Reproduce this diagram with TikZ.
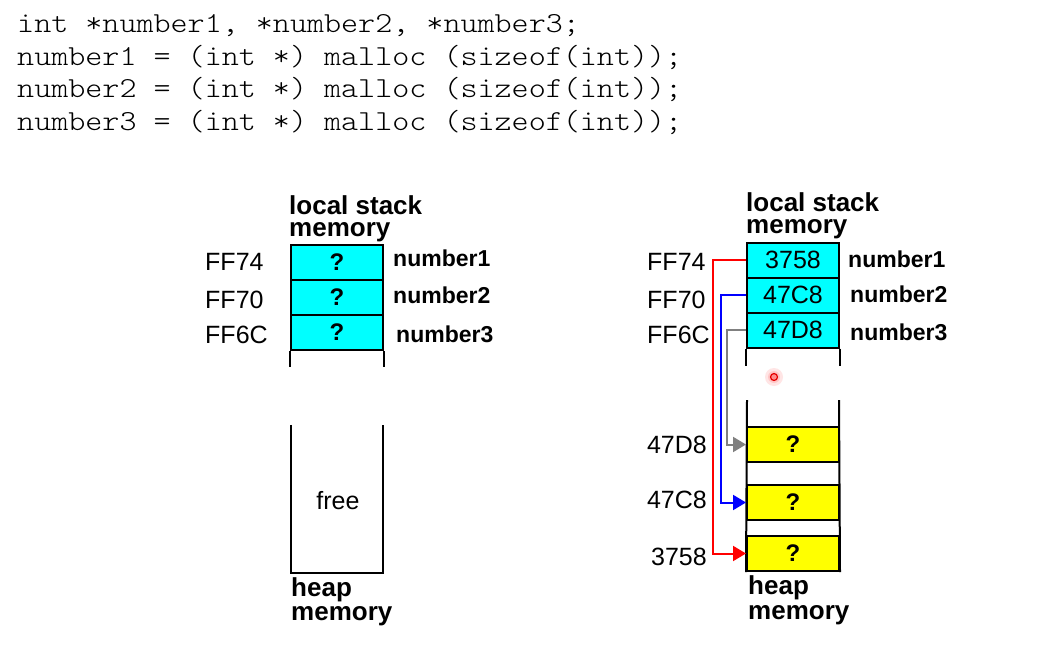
\documentclass[tikz,border=0pt]{standalone}
\usepackage{fontspec}
\setmainfont{Liberation Sans}
\newfontfamily\codefont{lmmonolt10-regular}[Extension=.otf,FakeStretch=1.12]
\usetikzlibrary{arrows.meta}
\definecolor{cellcyan}{RGB}{0,255,255}
\definecolor{cellyellow}{RGB}{255,255,0}
\definecolor{ptrgray}{RGB}{128,128,128}
\begin{document}
\begin{tikzpicture}[x=1pt,y=-1pt,
  code/.style={anchor=base west,inner sep=0pt,font=\fontsize{29}{33}\codefont},
  addrL/.style={anchor=base west,inner sep=0pt,font=\fontsize{25}{25}\selectfont},
  addrR/.style={anchor=base east,inner sep=0pt,font=\fontsize{25}{25}\selectfont},
  varname/.style={anchor=base west,inner sep=0pt,font=\bfseries\fontsize{23}{24}\selectfont},
  title/.style={anchor=base west,inner sep=0pt,font=\bfseries\fontsize{26}{26}\selectfont},
  cell/.style={draw,line width=2pt,minimum width=92pt,minimum height=35pt,inner sep=0pt},
  stackcell/.style={cell,fill=cellcyan},
  heapcell/.style={cell,fill=cellyellow},
  qmark/.style={font=\bfseries\fontsize{24}{24}\selectfont},
  val/.style={font=\fontsize{25}{25}\selectfont},
  wall/.style={line width=2pt},
  ptr/.style={line width=2pt,-{Triangle[length=13pt,width=15pt]}}
]
\fill[white] (0,0) rectangle (1059,645);
\useasboundingbox (0,0) rectangle (1059,645);

% code
\node[code] (c1) at (17,32) {int *number1, *number2, *number3;};
\node[code] (c2) at (17,65) {number1 = (int *) malloc (sizeof(int));};
\node[code] (c3) at (17,97.5) {number2 = (int *) malloc (sizeof(int));};
\node[code] (c4) at (17,130) {number3 = (int *) malloc (sizeof(int));};

% ---------- left diagram ----------
\node[title] (lst1) at (289,214) {local stack};
\node[title] (lst2) at (289,236) {memory};
\node[stackcell,qmark] (ls1) at (337,262.5) {?};
\node[stackcell,qmark] (ls2) at (337,297.5) {?};
\node[stackcell,qmark] (ls3) at (337,332.5) {?};
\draw[wall] (ls3.south west) -- ++(0,16);
\draw[wall] (ls3.south east) -- ++(0,16);
\node[addrL] (la1) at (205,270) {FF74};
\node[addrL] (la2) at (205,308) {FF70};
\node[addrL] (la3) at (205,343) {FF6C};
\node[varname] (ln1) at (393,266) {number1};
\node[varname] (ln2) at (393,303) {number2};
\node[varname] (ln3) at (396,342) {number3};

\node[minimum width=92pt,minimum height=148pt,inner sep=0pt] (lheap) at (337,499) {};
\node[val,anchor=base] (free) at (338,509) {free};
\draw[wall] (lheap.north west) -- (lheap.south west) -- (lheap.south east) -- (lheap.north east);
\node[title] (lh1) at (291,596) {heap};
\node[title] (lh2) at (291,620) {memory};

% ---------- right diagram ----------
\node[title] (rst1) at (746,211) {local stack};
\node[title] (rst2) at (746,233) {memory};
\node[stackcell,val] (rs1) at (793,260) {3758};
\node[stackcell,val] (rs2) at (793,295) {47C8};
\node[stackcell,val] (rs3) at (793,330) {47D8};
\draw[wall] (rs3.south west) -- ++(0,17);
\draw[wall] (rs3.south east) -- ++(0,17);
\node[addrL] (ra1) at (647,270) {FF74};
\node[addrL] (ra2) at (647,308) {FF70};
\node[addrL] (ra3) at (647,343) {FF6C};
\node[varname] (rn1) at (848,267) {number1};
\node[varname] (rn2) at (850,302) {number2};
\node[varname] (rn3) at (850,340) {number3};

\node[heapcell,qmark] (rh1) at (793,444.5) {?};
\node[heapcell,qmark] (rh2) at (793,502.5) {?};
\node[heapcell,qmark] (rh3) at (793,553.5) {?};
\coordinate (rhtl) at (747,400);
\coordinate (rhtr) at (839,400);
\draw[wall] (rhtl) -- (rh3.south west);
\draw[wall] (rhtr) -- (rh3.south east);
\node[addrR] (rha1) at (707,453) {47D8};
\node[addrR] (rha2) at (707,508) {47C8};
\node[addrR] (rha3) at (707,565) {3758};
\node[title] (rh1t) at (748,594) {heap};
\node[title] (rh2t) at (748,619) {memory};

% pointers
\draw[ptr,red] (rs1.west) -- ++(-33,0) |- (rh3.west);
\draw[ptr,blue] (rs2.west) -- ++(-25,0) |- (rh2.west);
\draw[ptr,ptrgray] (rs3.west) -- ++(-19,0) |- (rh1.west);

% cursor highlight
\node[circle,fill=red!10,minimum size=18pt,inner sep=0pt] (cursor) at (774,377) {};
\node[circle,fill=red!22,minimum size=12pt,inner sep=0pt] (cursorglow) at (cursor) {};
\node[circle,draw=red!90!black,fill=red!45,line width=1.2pt,minimum size=7pt,inner sep=0pt] (cursordot) at (cursor) {};
\end{tikzpicture}
\end{document}
